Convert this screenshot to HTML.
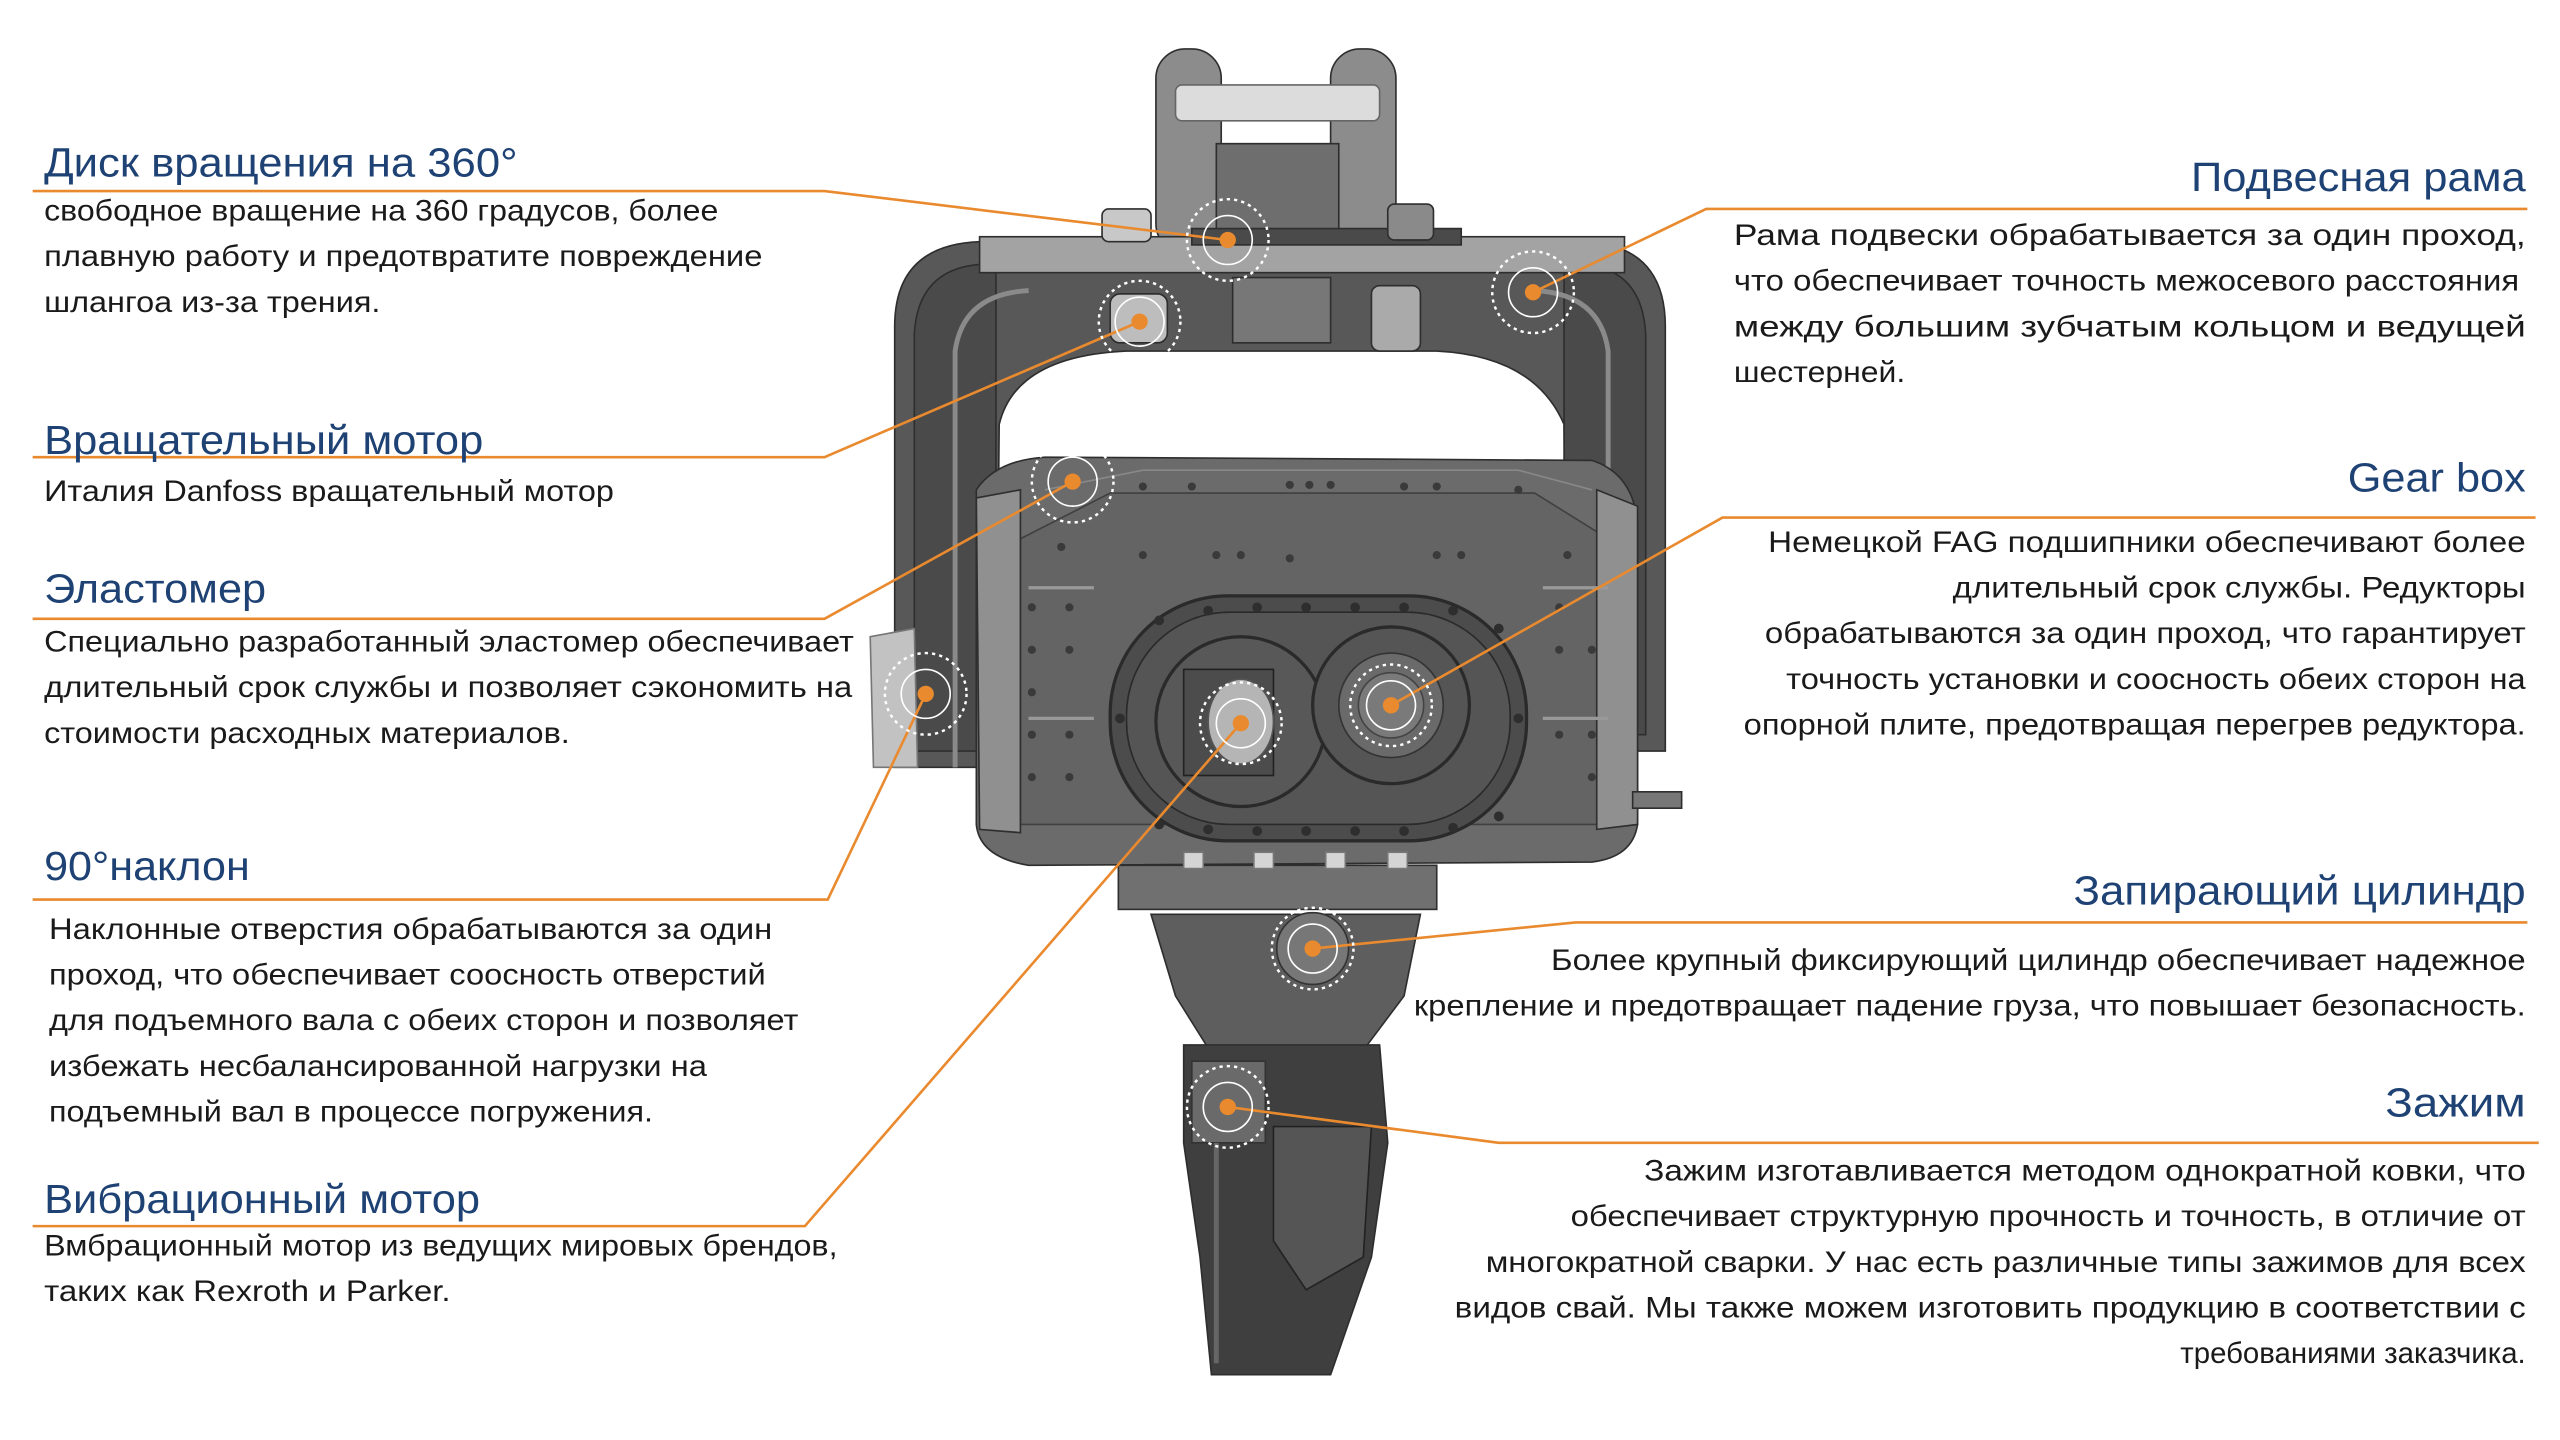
<!DOCTYPE html>
<html><head><meta charset="utf-8"><style>
html,body{margin:0;padding:0;background:#fff;}
svg{display:block;}
.t{font-family:"Liberation Sans",sans-serif;font-size:25px;fill:#1f4274;}
.b{font-family:"Liberation Sans",sans-serif;font-size:18px;fill:#1a1a1a;}
.ln{stroke:#e98a2f;stroke-width:1.6;fill:none;}
</style></head><body>
<svg width="2560" height="1440" viewBox="0 0 1568 882" xmlns="http://www.w3.org/2000/svg">
<rect width="1568" height="882" fill="#fff"/>
<!-- MACHINE -->
<g stroke="#2e2e2e" stroke-width="1">
<rect x="708" y="30" width="40" height="125" rx="18" fill="#8c8c8c"/>
<rect x="815" y="30" width="40" height="125" rx="18" fill="#8c8c8c"/>
<rect x="720" y="52" width="125" height="22" rx="4" fill="#dcdcdc" stroke="#666"/>
<rect x="745" y="88" width="75" height="62" fill="#6e6e6e"/>
<path d="M548,470 L548,200 Q548,150 600,148 L970,148 Q1020,150 1020,200 L1020,460 L960,460 L958,260 Q940,218 880,215 L690,215 Q622,218 612,260 L610,470 Z" fill="#585858"/>
<path d="M560,460 L560,205 Q562,165 600,162 L610,162 L610,460 Z" fill="#4a4a4a"/>
<path d="M1008,450 L1008,205 Q1006,165 970,162 L958,162 L958,450 Z" fill="#4a4a4a"/>
<path d="M585,470 L585,215 Q590,180 630,178" fill="none" stroke="#8a8a8a" stroke-width="3"/>
<path d="M985,460 L985,215 Q980,180 940,178" fill="none" stroke="#8a8a8a" stroke-width="3"/>
<rect x="600" y="145" width="395" height="22" fill="#a3a3a3"/>
<rect x="730" y="140" width="165" height="10" fill="#4a4a4a"/>
<rect x="675" y="128" width="30" height="20" rx="4" fill="#c8c8c8"/>
<rect x="850" y="125" width="28" height="22" rx="4" fill="#8a8a8a"/>
<rect x="680" y="180" width="35" height="30" rx="6" fill="#bdbdbd"/>
<rect x="755" y="170" width="60" height="40" fill="#777"/>
<rect x="840" y="175" width="30" height="40" rx="5" fill="#aaa"/>
<path d="M598,300 Q610,282 640,280 L975,282 Q1000,290 1003,320 L1003,505 Q1000,525 975,528 L630,530 Q600,525 598,505 Z" fill="#6b6b6b"/>
<path d="M625,330 L680,302 L940,302 L985,330 L985,505 L625,505 Z" fill="#646464" stroke="#404040"/>
<path d="M640,300 L700,288 L930,288 L975,300" fill="none" stroke="#888"/>
<path d="M598,305 L625,300 L625,510 L600,508 Z" fill="#909090"/>
<path d="M978,300 L1003,310 L1003,505 L978,508 Z" fill="#909090"/>
<path d="M533,390 L560,385 L562,470 L535,470 Z" fill="#c2c2c2" stroke="#777"/>
<path d="M1000,485 L1030,485 L1030,495 L1000,495 Z" fill="#777"/>
<g fill="#3a3a3a" stroke="none">
<circle cx="700" cy="298" r="2.5"/><circle cx="730" cy="298" r="2.5"/><circle cx="790" cy="297" r="2.5"/><circle cx="802" cy="297" r="2.5"/><circle cx="815" cy="297" r="2.5"/><circle cx="860" cy="298" r="2.5"/><circle cx="880" cy="298" r="2.5"/><circle cx="930" cy="300" r="2.5"/>
<circle cx="650" cy="335" r="2.5"/><circle cx="700" cy="340" r="2.5"/><circle cx="745" cy="340" r="2.5"/><circle cx="760" cy="340" r="2.5"/><circle cx="790" cy="342" r="2.5"/><circle cx="880" cy="340" r="2.5"/><circle cx="895" cy="340" r="2.5"/><circle cx="960" cy="340" r="2.5"/>
<circle cx="632" cy="372" r="2.5"/><circle cx="632" cy="398" r="2.5"/><circle cx="632" cy="424" r="2.5"/><circle cx="632" cy="450" r="2.5"/><circle cx="632" cy="476" r="2.5"/>
<circle cx="655" cy="372" r="2.5"/><circle cx="655" cy="398" r="2.5"/><circle cx="655" cy="450" r="2.5"/><circle cx="655" cy="476" r="2.5"/>
<circle cx="955" cy="372" r="2.5"/><circle cx="955" cy="398" r="2.5"/><circle cx="955" cy="450" r="2.5"/><circle cx="975" cy="476" r="2.5"/><circle cx="975" cy="398" r="2.5"/><circle cx="975" cy="450" r="2.5"/>
</g>
<path d="M630,360 L670,360 M630,440 L670,440 M945,360 L985,360 M945,440 L985,440" stroke="#999" stroke-width="2"/>
<rect x="680" y="365" width="255" height="150" rx="72" fill="#4c4c4c" stroke="#2a2a2a" stroke-width="2"/>
<rect x="690" y="375" width="235" height="130" rx="63" fill="#555" stroke="#2a2a2a"/>
<circle cx="760" cy="442" r="52" fill="#585858" stroke="#2a2a2a" stroke-width="2"/>
<rect x="725" y="410" width="55" height="65" fill="#4c4c4c" stroke="#222"/>
<ellipse cx="760" cy="442" rx="20" ry="26" fill="#b5b5b5" stroke="#555"/>
<circle cx="852" cy="432" r="48" fill="#555" stroke="#2a2a2a" stroke-width="2"/>
<circle cx="852" cy="432" r="32" fill="#6a6a6a" stroke="#333"/>
<circle cx="852" cy="432" r="20" fill="#7a7a7a" stroke="#444"/>
<g fill="#2e2e2e" stroke="none">
<circle cx="710" cy="380" r="3"/><circle cx="740" cy="374" r="3"/><circle cx="770" cy="372" r="3"/><circle cx="800" cy="372" r="3"/><circle cx="830" cy="372" r="3"/><circle cx="860" cy="372" r="3"/><circle cx="890" cy="374" r="3"/><circle cx="918" cy="385" r="3"/>
<circle cx="710" cy="505" r="3"/><circle cx="740" cy="508" r="3"/><circle cx="770" cy="509" r="3"/><circle cx="800" cy="509" r="3"/><circle cx="830" cy="509" r="3"/><circle cx="860" cy="509" r="3"/><circle cx="890" cy="507" r="3"/><circle cx="918" cy="500" r="3"/>
<circle cx="686" cy="440" r="3"/><circle cx="930" cy="440" r="3"/>
</g>
<path d="M705,560 L870,560 L860,610 L830,650 L745,650 L720,610 Z" fill="#5e5e5e"/>
<rect x="685" y="530" width="195" height="27" fill="#707070"/>
<g fill="#d5d5d5" stroke="#777"><rect x="725" y="522" width="12" height="10"/><rect x="768" y="522" width="12" height="10"/><rect x="812" y="522" width="12" height="10"/><rect x="850" y="522" width="12" height="10"/></g>
<circle cx="804" cy="581" r="22" fill="#777" stroke="#333"/>
<path d="M725,640 L845,640 L850,700 L840,770 L815,842 L742,842 L735,770 L725,700 Z" fill="#3f3f3f"/>
<path d="M780,690 L840,690 L835,770 L800,790 L780,760 Z" fill="#555" stroke="#222"/>
<path d="M730,650 L775,650 L775,700 L730,700 Z" fill="#6a6a6a" stroke="#333"/>
<path d="M745,700 L745,835" stroke="#666" stroke-width="3"/>
</g>
<g class="ln">
<polyline points="20,117 505,117 752,147"/>
<polyline points="20,280 505,280 698,197"/>
<polyline points="20,379 505,379 657,295"/>
<polyline points="20,551 507,551 567,425"/>
<polyline points="20,751 493,751 760,443"/>
<polyline points="1548,128 1045,128 939,179"/>
<polyline points="1553,317 1055,317 852,432"/>
<polyline points="1548,565 965,565 804,581"/>
<polyline points="1555,700 918,700 752,678"/>
</g>
<g>
<g transform="translate(752,147)"><circle r="25" fill="none" stroke="#fff" stroke-width="1.5" stroke-dasharray="2 2.5"/><circle r="15" fill="none" stroke="#fff" stroke-width="1"/><circle r="5" fill="#e98a2f"/></g>
<g transform="translate(698,197)"><circle r="25" fill="none" stroke="#fff" stroke-width="1.5" stroke-dasharray="2 2.5"/><circle r="15" fill="none" stroke="#fff" stroke-width="1"/><circle r="5" fill="#e98a2f"/></g>
<g transform="translate(939,179)"><circle r="25" fill="none" stroke="#fff" stroke-width="1.5" stroke-dasharray="2 2.5"/><circle r="15" fill="none" stroke="#fff" stroke-width="1"/><circle r="5" fill="#e98a2f"/></g>
<g transform="translate(657,295)"><circle r="25" fill="none" stroke="#fff" stroke-width="1.5" stroke-dasharray="2 2.5"/><circle r="15" fill="none" stroke="#fff" stroke-width="1"/><circle r="5" fill="#e98a2f"/></g>
<g transform="translate(567,425)"><circle r="25" fill="none" stroke="#fff" stroke-width="1.5" stroke-dasharray="2 2.5"/><circle r="15" fill="none" stroke="#fff" stroke-width="1"/><circle r="5" fill="#e98a2f"/></g>
<g transform="translate(852,432)"><circle r="25" fill="none" stroke="#fff" stroke-width="1.5" stroke-dasharray="2 2.5"/><circle r="15" fill="none" stroke="#fff" stroke-width="1"/><circle r="5" fill="#e98a2f"/></g>
<g transform="translate(760,443)"><circle r="25" fill="none" stroke="#fff" stroke-width="1.5" stroke-dasharray="2 2.5"/><circle r="15" fill="none" stroke="#fff" stroke-width="1"/><circle r="5" fill="#e98a2f"/></g>
<g transform="translate(804,581)"><circle r="25" fill="none" stroke="#fff" stroke-width="1.5" stroke-dasharray="2 2.5"/><circle r="15" fill="none" stroke="#fff" stroke-width="1"/><circle r="5" fill="#e98a2f"/></g>
<g transform="translate(752,678)"><circle r="25" fill="none" stroke="#fff" stroke-width="1.5" stroke-dasharray="2 2.5"/><circle r="15" fill="none" stroke="#fff" stroke-width="1"/><circle r="5" fill="#e98a2f"/></g>
</g>
<text class="t" x="27" y="108" textLength="290" lengthAdjust="spacingAndGlyphs">Диск вращения на 360°</text>
<text class="b" x="27" y="135" textLength="413" lengthAdjust="spacingAndGlyphs">свободное вращение на 360 градусов, более</text>
<text class="b" x="27" y="163" textLength="440" lengthAdjust="spacingAndGlyphs">плавную работу и предотвратите повреждение</text>
<text class="b" x="27" y="191" textLength="206" lengthAdjust="spacingAndGlyphs">шлангоа из-за трения.</text>
<text class="t" x="27" y="278" textLength="269" lengthAdjust="spacingAndGlyphs">Вращательный мотор</text>
<text class="b" x="27" y="307" textLength="349" lengthAdjust="spacingAndGlyphs">Италия Danfoss вращательный мотор</text>
<text class="t" x="27" y="369" textLength="136" lengthAdjust="spacingAndGlyphs">Эластомер</text>
<text class="b" x="27" y="399" textLength="496" lengthAdjust="spacingAndGlyphs">Специально разработанный эластомер обеспечивает</text>
<text class="b" x="27" y="427" textLength="495" lengthAdjust="spacingAndGlyphs">длительный срок службы и позволяет сэкономить на</text>
<text class="b" x="27" y="455" textLength="322" lengthAdjust="spacingAndGlyphs">стоимости расходных материалов.</text>
<text class="t" x="27" y="539" textLength="126" lengthAdjust="spacingAndGlyphs">90°наклон</text>
<text class="b" x="30" y="575" textLength="443" lengthAdjust="spacingAndGlyphs">Наклонные отверстия обрабатываются за один</text>
<text class="b" x="30" y="603" textLength="439" lengthAdjust="spacingAndGlyphs">проход, что обеспечивает соосность отверстий</text>
<text class="b" x="30" y="631" textLength="459" lengthAdjust="spacingAndGlyphs">для подъемного вала с обеих сторон и позволяет</text>
<text class="b" x="30" y="659" textLength="403" lengthAdjust="spacingAndGlyphs">избежать несбалансированной нагрузки на</text>
<text class="b" x="30" y="687" textLength="370" lengthAdjust="spacingAndGlyphs">подъемный вал в процессе погружения.</text>
<text class="t" x="27" y="743" textLength="267" lengthAdjust="spacingAndGlyphs">Вибрационный мотор</text>
<text class="b" x="27" y="769" textLength="486" lengthAdjust="spacingAndGlyphs">Вмбрационный мотор из ведущих мировых брендов,</text>
<text class="b" x="27" y="797" textLength="249" lengthAdjust="spacingAndGlyphs">таких как Rexroth и Parker.</text>
<text class="t" x="1342" y="117" textLength="205" lengthAdjust="spacingAndGlyphs">Подвесная рама</text>
<text class="b" x="1062" y="150" textLength="485" lengthAdjust="spacingAndGlyphs">Рама подвески обрабатывается за один проход,</text>
<text class="b" x="1062" y="178" textLength="481" lengthAdjust="spacingAndGlyphs">что обеспечивает точность межосевого расстояния</text>
<text class="b" x="1062" y="206" textLength="485" lengthAdjust="spacingAndGlyphs">между большим зубчатым кольцом и ведущей</text>
<text class="b" x="1062" y="234" textLength="105" lengthAdjust="spacingAndGlyphs">шестерней.</text>
<text class="t" x="1438" y="301" textLength="109" lengthAdjust="spacingAndGlyphs">Gear box</text>
<text class="b" x="1083" y="338" textLength="464" lengthAdjust="spacingAndGlyphs">Немецкой  FAG подшипники обеспечивают более</text>
<text class="b" x="1196" y="366" textLength="351" lengthAdjust="spacingAndGlyphs">длительный срок службы. Редукторы</text>
<text class="b" x="1081" y="394" textLength="466" lengthAdjust="spacingAndGlyphs">обрабатываются за один проход, что гарантирует</text>
<text class="b" x="1094" y="422" textLength="453" lengthAdjust="spacingAndGlyphs">точность установки и соосность обеих сторон на</text>
<text class="b" x="1068" y="450" textLength="479" lengthAdjust="spacingAndGlyphs">опорной плите, предотвращая перегрев редуктора.</text>
<text class="t" x="1270" y="554" textLength="277" lengthAdjust="spacingAndGlyphs">Запирающий цилиндр</text>
<text class="b" x="950" y="594" textLength="597" lengthAdjust="spacingAndGlyphs">Более крупный фиксирующий цилиндр обеспечивает надежное</text>
<text class="b" x="866" y="622" textLength="681" lengthAdjust="spacingAndGlyphs">крепление и предотвращает падение груза, что повышает безопасность.</text>
<text class="t" x="1461" y="684" textLength="86" lengthAdjust="spacingAndGlyphs">Зажим</text>
<text class="b" x="1007" y="723" textLength="540" lengthAdjust="spacingAndGlyphs">Зажим изготавливается методом однократной ковки, что</text>
<text class="b" x="962" y="751" textLength="585" lengthAdjust="spacingAndGlyphs">обеспечивает структурную прочность и точность, в отличие от</text>
<text class="b" x="910" y="779" textLength="637" lengthAdjust="spacingAndGlyphs">многократной сварки. У нас есть различные типы зажимов для всех</text>
<text class="b" x="891" y="807" textLength="656" lengthAdjust="spacingAndGlyphs">видов свай. Мы также можем изготовить продукцию в соответствии с</text>
<text class="b" x="1547" y="835" text-anchor="end">требованиями заказчика.</text>
</svg>
</body></html>
